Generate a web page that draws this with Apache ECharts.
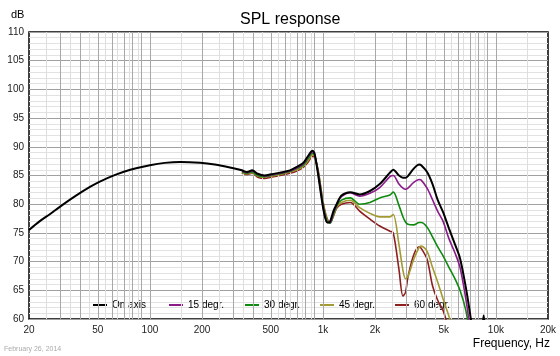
<!DOCTYPE html>
<html><head><meta charset="utf-8">
<script src="https://cdn.jsdelivr.net/npm/echarts@6/dist/echarts.min.js"></script>
<style>html,body{margin:0;padding:0;background:#fff}#c{width:560px;height:356px}</style>
</head><body><div id="c"></div>
<script>
// ---- data ----
const freqHz = [20, 23, 26.5, 30, 37, 45, 51, 63, 77, 100, 122, 150, 195, 237, 290,
  340, 365, 390, 420, 460, 500, 565, 645, 707, 770, 820, 870, 895, 940, 985,
  1020, 1060, 1100, 1150, 1200, 1280, 1440, 1630, 1870, 2130, 2440, 2550, 2750, 2900, 3000,
  3100, 3350, 3600, 3700, 4000, 4300, 4600, 4950, 5350, 5800, 6200, 6700, 7000, 7200, 7600,
  8200, 8500, 8800];
const onAxis = [75.5, 77.0, 78.3, 79.5, 81.4, 83.0, 83.9, 85.1, 86.0, 86.8, 87.2, 87.35, 87.2, 86.9, 86.4,
  85.9, 85.6, 85.9, 85.3, 85.0, 85.2, 85.5, 85.9, 86.5, 87.2, 88.4, 89.3, 88.8, 85.0, 80.8,
  78.2, 76.8, 77.0, 78.8, 80.0, 81.5, 82.1, 81.7, 82.3, 83.5, 85.5, 86.0, 85.0, 84.6, 84.6,
  84.9, 86.2, 86.9, 86.8, 85.6, 83.5, 80.8, 78.6, 75.8, 73.0, 70.6, 65.5, 62.0, 59.5, 55,
  56, 60.6, 55];
const deg15 = [null, null, null, null, null, null, null, null, null, null, null, null, null, null, null,
  85.8, 85.5, 85.8, 85.2, 84.9, 85.1, 85.4, 85.8, 86.3, 87.0, 88.2, 89.1, 88.7, 85.2, 81.0,
  78.4, 76.8, 76.8, 78.5, 79.9, 81.3, 82.0, 81.4, 81.9, 82.9, 84.8, 85.0, 83.5, 82.8, 82.6,
  82.8, 83.8, 84.3, 84.2, 82.8, 80.8, 78.8, 77.0, 74.0, 71.5, 69.0, 63.5, 59.5, 56, null,
  null, null, null];
const deg30 = [null, null, null, null, null, null, null, null, null, null, null, null, null, null, null,
  85.6, 85.4, 85.6, 85.0, 84.8, 85.0, 85.3, 85.7, 86.2, 86.8, 87.9, 88.9, 88.6, 85.4, 81.3,
  78.7, 77.0, 76.7, 78.2, 79.7, 80.7, 81.1, 80.0, 80.3, 81.1, 81.6, 82.1, 79.8, 77.8, 76.9,
  76.5, 76.4, 76.8, 76.8, 76.0, 74.3, 72.6, 71.0, 69.0, 67.0, 65.0, 61.5, 58, 55, null,
  null, null, null];
const deg45 = [null, null, null, null, null, null, null, null, null, null, null, null, null, null, null,
  85.5, 85.3, 85.5, 84.9, 84.7, 84.9, 85.2, 85.6, 86.0, 86.6, 87.6, 88.6, 88.4, 85.6, 81.6,
  79.0, 77.2, 76.7, 78.0, 79.5, 80.3, 80.7, 79.4, 78.4, 77.8, 77.8, 78.2, 73.0, 68.5, 67.0,
  67.4, 70.4, 72.5, 72.7, 71.8, 69.0, 66.5, 63.5, 60.5, 57, null, null, null, null, null,
  null, null, null];
const deg60 = [null, null, null, null, null, null, null, null, null, null, null, null, null, null, null,
  85.4, 85.2, 85.4, 84.7, 84.5, 84.7, 85.0, 85.4, 85.8, 86.4, 87.3, 88.3, 88.2, 85.8, 81.8,
  79.2, 77.4, 76.8, 77.9, 79.3, 80.0, 80.3, 78.8, 77.4, 76.2, 75.3, 75.0, 68.7, 64.0, 64.6,
  67.3, 71.2, 72.6, 72.3, 70.4, 65.8, 63.3, 61.5, 58, null, null, null, null, null, null,
  null, null, null];
const seriesNames = ['On axis', '15 degr.', '30 degr.', '45 degr.', '60 degr.'];
const xTickHz = [20, 50, 100, 200, 500, 1000, 2000, 5000, 10000, 20000];
const xTickLabels = ['20', '50', '100', '200', '500', '1k', '2k', '5k', '10k', '20k'];
const majorGridHz = [30, 40, 50, 60, 70, 80, 90, 100, 200, 300, 400, 500, 600, 700, 800, 900,
  1000, 2000, 3000, 4000, 5000, 6000, 7000, 8000, 9000, 10000];
const minorGridHz = [25, 35, 45, 55, 65, 75, 85, 150, 250, 350, 450, 550, 650, 750, 850,
  1500, 2500, 3500, 4500, 5500, 6500, 7500, 8500, 15000];

// ---- chart ----
const lg = Math.log10;
const colors = ['#000000', '#8b1a8b', '#0e8a0e', '#a39a33', '#8e1f1f'];
const values = [onAxis, deg15, deg30, deg45, deg60];
function pairs(arr) {
  const out = [];
  freqHz.forEach((f, i) => { if (arr[i] != null) out.push([lg(f), arr[i]]); });
  return out;
}
function gridSeries(hz, color) {
  return {
    type: 'line', data: [], z: 1, silent: true, legendHoverLink: false,
    markLine: {
      silent: true, symbol: ['none', 'none'], label: { show: false }, animation: false,
      lineStyle: { color: color, width: 1, type: 'solid' },
      emphasis: { disabled: true },
      data: hz.map(f => ({ xAxis: lg(f) }))
    }
  };
}
const dataSeries = [];
for (let i = values.length - 1; i >= 0; i--) {
  dataSeries.push({
    name: seriesNames[i], type: 'line', data: pairs(values[i]),
    showSymbol: false, symbol: 'none', smooth: 0.3, z: 3 + (values.length - i),
    color: colors[i],
    lineStyle: { color: colors[i], width: i === 0 ? 2 : 1.6 },
    emphasis: { disabled: true }
  });
}
const legendLeft = [93, 169, 245, 320, 395];
const legends = seriesNames.map((n, i) => ({
  data: [n], left: legendLeft[i], top: 300, icon: 'rect', itemWidth: 14, itemHeight: 2,
  padding: 0, selectedMode: false,
  textStyle: { fontSize: 10, color: '#000', fontFamily: 'Liberation Sans, Arial, sans-serif' }
}));

const chart = echarts.init(document.getElementById('c'), null, { renderer: 'canvas' });
chart.setOption({
  animation: false,
  backgroundColor: '#fff',
  textStyle: { fontFamily: 'Liberation Sans, Arial, sans-serif' },
  title: {
    text: 'SPL response', left: 235, top: 7,
    textStyle: { fontSize: 16, fontWeight: 'normal', color: '#000' }
  },
  legend: legends,
  grid: { left: 29, right: 12, top: 32, bottom: 37, show: true, borderColor: '#000', borderWidth: 1.5, backgroundColor: '#fff' },
  xAxis: {
    type: 'value', min: lg(20), max: lg(20000),
    axisLine: { show: false }, axisTick: { show: false }, splitLine: { show: false },
    axisLabel: {
      customValues: xTickHz.map(lg), fontSize: 10, color: '#222', margin: 6,
      formatter: v => { const i = xTickHz.findIndex(h => Math.abs(lg(h) - v) < 1e-6); return i >= 0 ? xTickLabels[i] : ''; }
    }
  },
  yAxis: {
    type: 'value', min: 60, max: 110, interval: 5,
    axisLine: { show: false }, axisTick: { show: false },
    axisLabel: { fontSize: 10, color: '#222', margin: 5 },
    splitLine: { show: true, lineStyle: { color: '#a0a0a0', width: 1 } },
    minorTick: { show: false, splitNumber: 5 },
    minorSplitLine: { show: true, lineStyle: { color: '#e2e2e2', width: 1 } }
  },
  graphic: [
    { type: 'text', left: 11, top: 9, style: { text: 'dB', fontSize: 11, fill: '#000', fontFamily: 'Liberation Sans, Arial, sans-serif' } },
    { type: 'text', right: 10, top: 338, style: { text: 'Frequency, Hz', fontSize: 12, fill: '#000', fontFamily: 'Liberation Sans, Arial, sans-serif' } },
    { type: 'text', left: 4, top: 346, style: { text: 'February 26, 2014', fontSize: 7, fill: '#aaaaaa', fontFamily: 'Liberation Sans, Arial, sans-serif' } }
  ],
  series: [gridSeries(minorGridHz, '#dedede'), gridSeries(majorGridHz, '#a8a8a8')].concat(dataSeries)
});
</script>
</body></html>
